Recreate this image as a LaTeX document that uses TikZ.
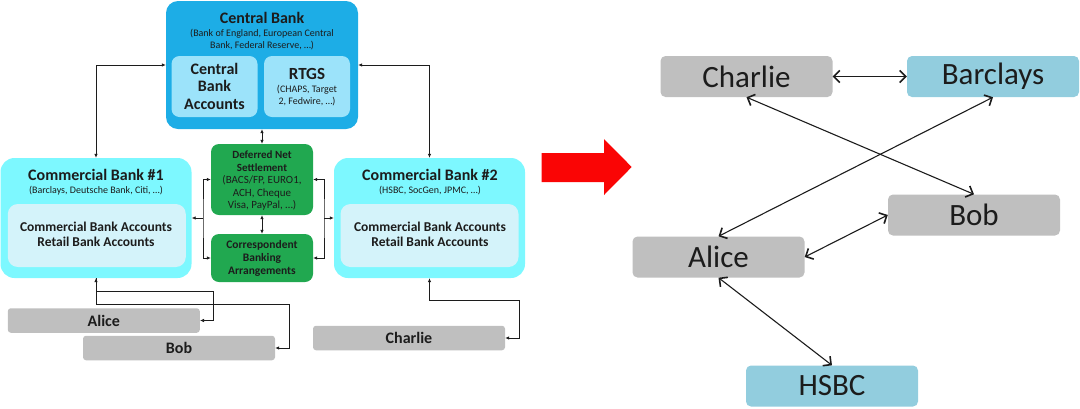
\documentclass[tikz,border=0pt]{standalone}
\usepackage{fontspec}
\setmainfont{Carlito}
\usetikzlibrary{arrows.meta}
\definecolor{cbblue}{RGB}{29,173,230}
\definecolor{cblight}{RGB}{156,227,250}
\definecolor{commcyan}{RGB}{125,248,255}
\definecolor{commlight}{RGB}{212,243,250}
\definecolor{dngreen}{RGB}{33,168,80}
\definecolor{pgray}{RGB}{191,191,191}
\definecolor{rblue}{RGB}{146,205,222}
\definecolor{txt}{RGB}{28,28,28}
\definecolor{redarrow}{RGB}{250,5,5}
\tikzset{
  cbouter/.style={fill=cbblue, rounded corners=12pt, inner sep=0pt, minimum width=192pt, minimum height=128pt},
  cbinner/.style={fill=cblight, rounded corners=8pt, inner sep=0pt, minimum width=86pt, minimum height=61pt},
  comm/.style={fill=commcyan, rounded corners=14pt, inner sep=0pt, minimum width=191pt, minimum height=120pt},
  comminner/.style={fill=commlight, rounded corners=10pt, inner sep=0pt, minimum width=178pt, minimum height=63pt},
  gbox/.style={fill=dngreen, rounded corners=8pt, inner sep=0pt, minimum width=102pt},
  person/.style={fill=pgray, rounded corners=3pt, inner sep=0pt, minimum width=192pt, minimum height=24.5pt, text=txt, font=\fontsize{16}{18}\selectfont\bfseries},
  rnode/.style={rounded corners=5pt, inner sep=0pt, minimum width=172pt, minimum height=41pt, text=txt, font=\fontsize{31}{34}\selectfont},
  ttl/.style={text=txt, inner sep=0pt, align=center, font=\fontsize{16}{17.5}\selectfont\bfseries},
  sub/.style={text=txt, inner sep=0pt, align=center, font=\fontsize{10}{11.5}\selectfont},
  larr/.style={draw=txt, line width=0.7pt, {Latex[length=4pt,width=3.5pt]}-{Latex[length=4pt,width=3.5pt]}},
  larrone/.style={draw=txt, line width=0.7pt, -{Latex[length=4pt,width=3.5pt]}},
  rarr/.style={draw=txt, line width=1.1pt, {Straight Barb[length=6pt,width=12pt,line width=1.6pt]}-{Straight Barb[length=6pt,width=12pt,line width=1.6pt]}}
}
\begin{document}
\begin{tikzpicture}[x=1pt,y=-1pt]
\useasboundingbox (0,0) rectangle (1080,408);

% Central bank
\node[cbouter] (cb) at (262,65) {};
\node[ttl] (cbt) at (262,18) {Central Bank};
\node[sub] (cbs) at (262,39.5) {(Bank of England, European Central\\Bank, Federal Reserve, \dots)};
\node[cbinner] (cba) at (214.5,86.5) {};
\node[ttl] (cbat) at (214.5,86) {Central\\Bank\\Accounts};
\node[cbinner] (rtgs) at (307,86.5) {};
\node[ttl, font=\fontsize{17}{19}\selectfont\bfseries] (rtgst) at (307,74) {RTGS};
\node[sub, font=\fontsize{10}{12}\selectfont] (rtgss) at (307,96) {(CHAPS, Target\\2, Fedwire, \dots)};

% Commercial banks
\node[comm] (cb1) at (96,218) {};
\node[ttl] (cb1t) at (96,175) {Commercial Bank \#1};
\node[sub] (cb1s) at (96,191) {(Barclays, Deutsche Bank, Citi, \dots)};
\node[comminner] (cb1i) at (96.8,235.5) {};
\node[ttl, font=\fontsize{13.5}{15}\selectfont\bfseries] (cb1it) at (96,234.5) {Commercial Bank Accounts\\Retail Bank Accounts};

\node[comm] (cb2) at (429.5,218) {};
\node[ttl] (cb2t) at (430,175) {Commercial Bank \#2};
\node[sub] (cb2s) at (430,191) {(HSBC, SocGen, JPMC, \dots)};
\node[comminner] (cb2i) at (429.5,235.5) {};
\node[ttl, font=\fontsize{13.5}{15}\selectfont\bfseries] (cb2it) at (430,234.5) {Commercial Bank Accounts\\Retail Bank Accounts};

% Green boxes
\node[gbox, minimum height=71pt] (dns) at (262,179.5) {};
\node[text=txt, inner sep=0pt, align=center, font=\fontsize{11}{12.5}\selectfont] (dnst) at (262,181) {\textbf{Deferred Net}\\\textbf{Settlement}\\(BACS/FP, EURO1,\\ACH, Cheque\\Visa, PayPal, \dots)};
\node[gbox, minimum height=48pt] (corr) at (262,258) {};
\node[text=txt, inner sep=0pt, align=center, font=\fontsize{11.5}{13}\selectfont\bfseries] (corrt) at (262,258) {Correspondent\\Banking\\Arrangements};

% People
\node[person] (alice) at (103.8,320.5) {Alice};
\node[person] (bob) at (179,348) {Bob};
\node[person] (charlie) at (409,338) {Charlie};

% Left connectors
\draw[larr] (cb.west) -| (cb1.north);
\draw[larr] (cb.east) -| (cb2.north);
\draw[larr] (cb.south) -- (dns.north);
\draw[larr] (dns.south) -- (corr.north);
\coordinate (lb) at (203,218);
\coordinate (rb) at (324,218);
\draw[larr] (dns.west) -| (lb) |- (corr.west);
\draw[larrone] (lb) -- (cb1.east);
\draw[larr] (dns.east) -| (rb) |- (corr.east);
\draw[larrone] (rb) -- (cb2.west);
\coordinate (ja) at (213,291);
\coordinate (jb) at (289,304);
\coordinate (jc) at (519,300);
\draw[larr] (cb1.south) |- (ja) |- (alice.east);
\draw[larrone] (cb1.south) |- (jb) |- (bob.east);
\draw[larr] (cb2.south) |- (jc) |- (charlie.east);

% Red arrow
\fill[redarrow] (541.7,153) -- (604,153) -- (604,139) -- (631.7,167) -- (604,195) -- (604,182) -- (541.7,182) -- cycle;

% Right diagram
\node[rnode, fill=pgray] (rch) at (746.5,76.5) {Charlie};
\node[rnode, fill=rblue] (rbar) at (993,76.5) {Barclays};
\node[rnode, fill=pgray] (rbob) at (974,215) {Bob};
\node[rnode, fill=pgray] (ral) at (718.5,257) {Alice};
\node[rnode, fill=rblue] (rhs) at (832,386) {HSBC};

\draw[rarr, line width=1.4pt] (rch.east) -- (rbar.west);
\draw[rarr] (rch.south) -- (rbob.north);
\draw[rarr] (rbar.south) -- (ral.north);
\draw[rarr] (rbob.west) -- (ral.east);
\draw[rarr] (ral.south) -- (rhs.north);
\end{tikzpicture}
\end{document}
